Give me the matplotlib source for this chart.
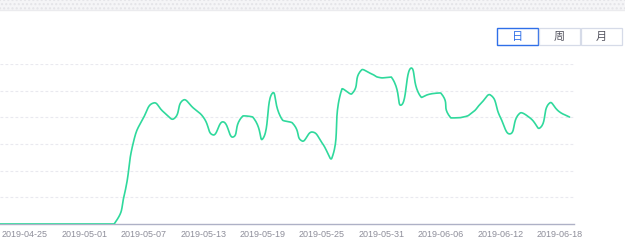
import numpy as np
import pandas as pd
import matplotlib.pyplot as plt
import matplotlib.dates as mdates
from matplotlib.patches import Rectangle

plt.rcParams['font.family'] = ['Noto Sans CJK SC', 'DejaVu Sans']

dates = pd.date_range("2019-04-22", "2019-06-19", freq="D")
values = [0] * 13 + [
    105, 315, 401, 454, 420, 394, 465, 435, 401, 334,
    383, 326, 405, 401, 319, 491, 390, 379, 311, 345,
    304, 248, 506, 488, 578, 563, 548, 551, 446, 585,
    476, 488, 491, 398, 399, 413, 450, 484, 401, 338,
    416, 398, 360, 454, 420, 401,
]
tick_labels = ["2019-04-25", "2019-05-01", "2019-05-07", "2019-05-13", "2019-05-19",
               "2019-05-25", "2019-05-31", "2019-06-06", "2019-06-12", "2019-06-18"]
buttons = ["日", "周", "月"]


def smooth_line(x, y, smooth=0.5, n=24):
    # bezier smoothing in the style of echarts, control points clamped to the data box
    pts = np.column_stack([x, y]).astype(float)
    lo, hi = pts.min(axis=0), pts.max(axis=0)
    cps = []
    for i in range(len(pts)):
        prev = pts[i - 1] if i > 0 else pts[i]
        nxt = pts[i + 1] if i < len(pts) - 1 else pts[i]
        v = (nxt - prev) * smooth
        d0 = np.linalg.norm(pts[i] - prev)
        d1 = np.linalg.norm(nxt - pts[i])
        s = d0 + d1 if d0 + d1 > 0 else 1
        c0 = np.clip(pts[i] - v * d0 / s, lo, hi)
        c1 = np.clip(pts[i] + v * d1 / s, lo, hi)
        cps.append((c0, c1))
    t = np.linspace(0, 1, n)[:, None]
    out = [pts[:1]]
    for i in range(len(pts) - 1):
        p0, p3 = pts[i], pts[i + 1]
        p1, p2 = cps[i][1], cps[i + 1][0]
        seg = ((1 - t) ** 3) * p0 + 3 * ((1 - t) ** 2) * t * p1 + 3 * (1 - t) * t ** 2 * p2 + t ** 3 * p3
        out.append(seg[1:])
    out = np.vstack(out)
    return out[:, 0], out[:, 1]


fig = plt.figure(figsize=(6.25, 2.49), dpi=100)
ax = fig.add_axes([0, 0.1004, 574 / 625, 0.6426])

xs = mdates.date2num(dates)
sx, sy = smooth_line(xs, values)
ax.plot(sx, sy, color="#2fd99c", lw=1.2, solid_capstyle="round", zorder=3)

ax.set_ylim(0, 600)
ax.set_yticks(range(100, 601, 100))
ax.yaxis.grid(True, color="#e9e9ef", lw=0.8, ls=(0, (2.5, 2)))
ax.tick_params(axis="y", left=False, labelleft=False)

start = mdates.date2num(pd.Timestamp("2019-04-25"))
ax.set_xlim(start - 2.53, start + 55.45)
ax.set_xticks(mdates.date2num(pd.to_datetime(tick_labels)))
ax.set_xticklabels(tick_labels, fontsize=6.5, color="#8e8e9a", family=["Liberation Sans"])
ax.tick_params(axis="x", length=0, pad=4)

for s in ["top", "right", "left"]:
    ax.spines[s].set_visible(False)
ax.spines["bottom"].set_color("#aeb1c6")
ax.spines["bottom"].set_linewidth(1.0)

# hatched band at the top
fig.patches.append(Rectangle((0, 1 - 10 / 249), 1, 10 / 249, transform=fig.transFigure,
                             facecolor="#f5f5f7", edgecolor="#e4e4e8", hatch="....", lw=0))
fig.lines.append(plt.Line2D([0, 1], [1 - 10.5 / 249, 1 - 10.5 / 249], transform=fig.transFigure,
                            color="#ebebee", lw=1))

# period buttons
bx = [497, 539, 581]
for i, b in enumerate(buttons):
    active = i == 0
    ec = "#2f6fe8" if active else "#d6dbe8"
    fig.patches.append(Rectangle((bx[i] / 625, 1 - 45 / 249), 40.5 / 625, 16.5 / 249,
                                 transform=fig.transFigure, facecolor="white",
                                 edgecolor=ec, lw=1.0 if active else 0.9))
    fig.text((bx[i] + 20.25) / 625, 1 - 36.8 / 249, b, ha="center", va="center",
             fontsize=8, color="#2f6fe8" if active else "#555560")

fig.savefig("out.png", dpi=100)
